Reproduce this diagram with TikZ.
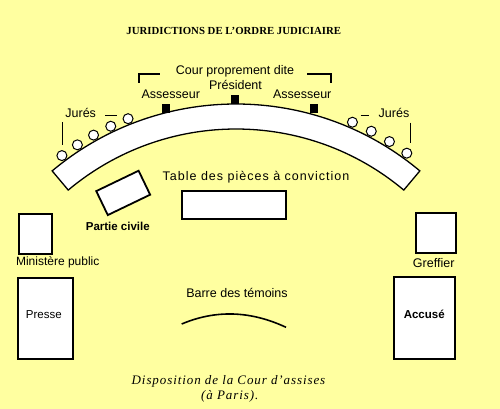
\documentclass[tikz,border=0pt]{standalone}
\usepackage{fontspec}
\setmainfont{Liberation Serif}
\setsansfont{Liberation Sans}
\usetikzlibrary{calc}
\definecolor{bg}{RGB}{255,255,160}
\begin{document}
\begin{tikzpicture}[x=1pt,y=-1pt,
  lbl/.style={font=\sffamily\fontsize{12.5}{14}\selectfont, inner sep=0pt},
  boldlbl/.style={font=\sffamily\bfseries\fontsize{11.5}{13}\selectfont, inner sep=0pt},
  box/.style={draw, fill=white, line width=2pt, inner sep=0pt},
  band/.style={draw, fill=white, line width=1.3pt, line join=miter},
  juror/.style={draw, fill=white, line width=1pt},
  tick/.style={line width=1.3pt},
  seat/.style={fill=black}]
\fill[bg] (0,0) rectangle (500,409);
\useasboundingbox (0,0) rectangle (500,409);

% title
\node[font=\rmfamily\bfseries\fontsize{10.8}{13}\selectfont, inner sep=0pt] (title) at (233.8,31) {JURIDICTIONS DE L'ORDRE JUDICIAIRE};

% bench (arc)
\coordinate (C) at (236,390);
\foreach \a in {-126.6,-122.9,-119.2,-115.4,-111.7,-66.5,-62.4,-58.3,-54.2}
  \draw[juror] ($(C)+(\a:292)$) circle[radius=5];
\draw[band] ($(C)+(-130:286)$) arc[start angle=-130, end angle=-50, radius=286]
  -- ($(C)+(-50:261)$) arc[start angle=-50, end angle=-130, radius=261] -- cycle;

% seats of the court
\fill[seat] (161.7,104.3) rectangle (170,113.3);
\fill[seat] (230.7,95) rectangle (239,104);
\fill[seat] (310,104.3) rectangle (318.3,113.3);

% labels of the court
\node[lbl] (cour) at (235,71) {Cour proprement dite};
\node[lbl] (pres) at (235.5,85) {Président};
\node[lbl] (assl) at (170.8,94.3) {Assesseur};
\node[lbl] (assr) at (302.2,94.3) {Assesseur};
\draw[tick] (139,83) -- (139,74) -- (160,74);
\draw[tick] (307,74) -- (331,74) -- (331,83);

\node[lbl] (jurl) at (80.7,113.3) {Jurés};
\node[lbl] (jurr) at (394,112.7) {Jurés};
\draw[tick] (105,115.7) -- (116.7,115.7);
\draw[tick] (62.7,122.3) -- (62.7,145);
\draw[tick] (360.7,115.7) -- (369.3,115.7);
\draw[tick] (410.7,122.7) -- (410.7,143.3);

% tables and boxes
\node[box, line width=1.8pt, minimum width=47, minimum height=26.6, rotate=25.7] (pc) at (123.2,192.9) {};
\node[boldlbl] (pclbl) at (117.8,226) {Partie civile};

\node[lbl, font=\sffamily\fontsize{12.5}{14}\selectfont\addfontfeature{LetterSpace=8}] (tablbl) at (256,177.3) {Table des pièces à conviction};
\node[box, minimum width=104.6, minimum height=28] (table) at (234,205) {};

\node[box, minimum width=33, minimum height=40.3] (mp) at (35.8,233.85) {};
\node[lbl, font=\sffamily\fontsize{12}{14}\selectfont] (mplbl) at (57.7,262.7) {Ministère public};
\node[box, minimum width=55.3, minimum height=81.3] (presse) at (45.35,318.35) {};
\node[lbl, font=\sffamily\fontsize{11.5}{13}\selectfont] (presselbl) at (43.8,315) {Presse};

\node[box, minimum width=40.3, minimum height=40.3] (gr) at (436.15,232.85) {};
\node[lbl] (grlbl) at (433.7,262.7) {Greffier};
\node[box, minimum width=61.3, minimum height=82] (acc) at (424.35,318) {};
\node[boldlbl] (acclbl) at (424.2,314.3) {Accusé};

% barre des témoins
\node[lbl] (barre) at (237,293.3) {Barre des témoins};
\coordinate (b1) at (181.7,324);
\coordinate (b2) at (286,327.3);
\draw[line width=1.6pt] (b1) .. controls (215.7,309.6) and (250.5,310.7) .. (b2);

% caption
\node[font=\rmfamily\itshape\fontsize{13}{15}\selectfont\addfontfeature{LetterSpace=7}, inner sep=0pt] (cap1) at (228.5,381) {Disposition de la Cour d'assises};
\node[font=\rmfamily\itshape\fontsize{13}{15}\selectfont\addfontfeature{LetterSpace=7}, inner sep=0pt] (cap2) at (229.8,396) {(à Paris).};
\end{tikzpicture}
\end{document}
